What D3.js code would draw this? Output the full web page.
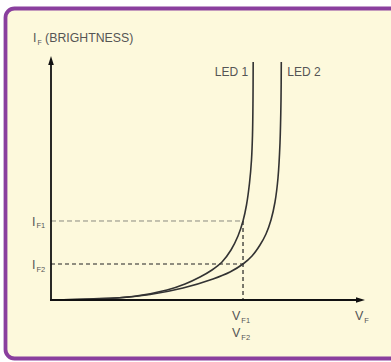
<!DOCTYPE html>
<html>
<head>
<meta charset="utf-8">
<script src="https://cdn.jsdelivr.net/npm/d3@7"></script>
<style>
  html, body { margin: 0; padding: 0; background: #ffffff; }
  svg { display: block; }
  text { font-family: "Liberation Sans", Arial, sans-serif; fill: #555; }
</style>
</head>
<body>
<svg id="chart" width="391" height="362"></svg>
<script>
// ---- data (V and I in arbitrary units) ----
const led1V = [0.032, 1.242, 2.611, 3.694, 4.268, 4.745, 5.127, 5.446, 5.732, 5.955, 6.115, 6.226, 6.322, 6.385, 6.417, 6.433, 6.439];
const led1I = [0.000, 0.041, 0.143, 0.410, 0.656, 0.943, 1.230, 1.557, 2.049, 2.623, 3.238, 3.893, 4.795, 5.738, 6.762, 8.197, 9.754];
const led2V = [0.032, 2.102, 3.153, 4.204, 5.159, 5.701, 6.115, 6.401, 6.656, 6.847, 7.006, 7.134, 7.229, 7.293, 7.325, 7.334];
const led2I = [0.000, 0.082, 0.225, 0.492, 0.861, 1.148, 1.475, 1.803, 2.254, 2.705, 3.279, 4.016, 5.000, 6.434, 8.197, 9.754];
const seriesNames = ["LED 1", "LED 2"];
const IF1 = 3.238, IF2 = 1.475, VF1 = 6.115;
const yTitle = ["I", "F", " (BRIGHTNESS)"];
const xTitle = ["V", "F"];

const svg = d3.select("#chart");

// frame
svg.append("rect")
  .attr("x", 5.5).attr("y", 8.5).attr("width", 400).attr("height", 350)
  .attr("rx", 9).attr("ry", 9)
  .attr("fill", "#fdf9dc").attr("stroke", "#8a3f9e").attr("stroke-width", 3.8);

const x = d3.scaleLinear().domain([0, 10]).range([51, 365]);
const y = d3.scaleLinear().domain([0, 10]).range([300, 56]);

// dashed guide lines
svg.append("line")
  .attr("x1", x(0)).attr("x2", x(VF1)).attr("y1", y(IF1)).attr("y2", y(IF1))
  .attr("stroke", "#8a8a80").attr("stroke-width", 1).attr("stroke-dasharray", "5,3");
svg.append("line")
  .attr("x1", x(0)).attr("x2", x(VF1)).attr("y1", y(IF2)).attr("y2", y(IF2))
  .attr("stroke", "#222").attr("stroke-width", 1.2).attr("stroke-dasharray", "4,3");
svg.append("line")
  .attr("x1", x(VF1)).attr("x2", x(VF1)).attr("y1", y(IF1)).attr("y2", y(0))
  .attr("stroke", "#222").attr("stroke-width", 1.2).attr("stroke-dasharray", "4,3");

// curves
const line = d3.line().x(d => x(d[0])).y(d => y(d[1])).curve(d3.curveCatmullRom.alpha(0.5));
const curves = [d3.zip(led1V, led1I), d3.zip(led2V, led2I)];
svg.selectAll("path.curve").data(curves).join("path")
  .attr("class", "curve")
  .attr("d", line)
  .attr("fill", "none").attr("stroke", "#333").attr("stroke-width", 1.6);

// axes
const axisColor = "#111";
svg.append("line").attr("x1", x(0)).attr("x2", x(0)).attr("y1", y(0) + 1).attr("y2", y(10) + 6)
  .attr("stroke", axisColor).attr("stroke-width", 1.8);
svg.append("path")
  .attr("d", `M${x(0)},${y(10)} L${x(0) - 2.8},${y(10) + 9} L${x(0) + 2.8},${y(10) + 9} Z`)
  .attr("fill", axisColor);
svg.append("line").attr("x1", x(0) - 1).attr("x2", x(10) - 6).attr("y1", y(0)).attr("y2", y(0))
  .attr("stroke", axisColor).attr("stroke-width", 1.8);
svg.append("path")
  .attr("d", `M${x(10)},${y(0)} L${x(10) - 9},${y(0) - 2.8} L${x(10) - 9},${y(0) + 2.8} Z`)
  .attr("fill", axisColor);

// helper for subscript labels
function sublabel(px, py, main, sub, size, anchor) {
  const t = svg.append("text").attr("x", px).attr("y", py)
    .attr("font-size", size).attr("text-anchor", anchor || "start");
  t.append("tspan").text(main);
  t.append("tspan").attr("font-size", size * 0.6).attr("dx", 1).attr("dy", 2.5).text(sub);
  return t;
}

// y title
const yt = svg.append("text").attr("x", 33).attr("y", 42).attr("font-size", 12.3);
yt.append("tspan").text(yTitle[0]);
yt.append("tspan").attr("font-size", 7).attr("dx", 1).attr("dy", 2.5).text(yTitle[1]);
yt.append("tspan").attr("dy", -2.5).text(yTitle[2]);

// series labels
svg.append("text").attr("x", x(led1V[led1V.length - 1]) - 5).attr("y", 76)
  .attr("text-anchor", "end").attr("font-size", 12).text(seriesNames[0]);
svg.append("text").attr("x", x(led2V[led2V.length - 1]) + 6).attr("y", 76)
  .attr("font-size", 12).text(seriesNames[1]);

// tick labels
sublabel(32, y(IF1) + 5, "I", "F1", 12.5);
sublabel(32, y(IF2) + 5, "I", "F2", 12.5);
sublabel(x(VF1) - 11, 320, "V", "F1", 12.5);
sublabel(x(VF1) - 11, 337, "V", "F2", 12.5);
sublabel(355, 320, xTitle[0], xTitle[1], 12.5);
</script>
</body>
</html>
